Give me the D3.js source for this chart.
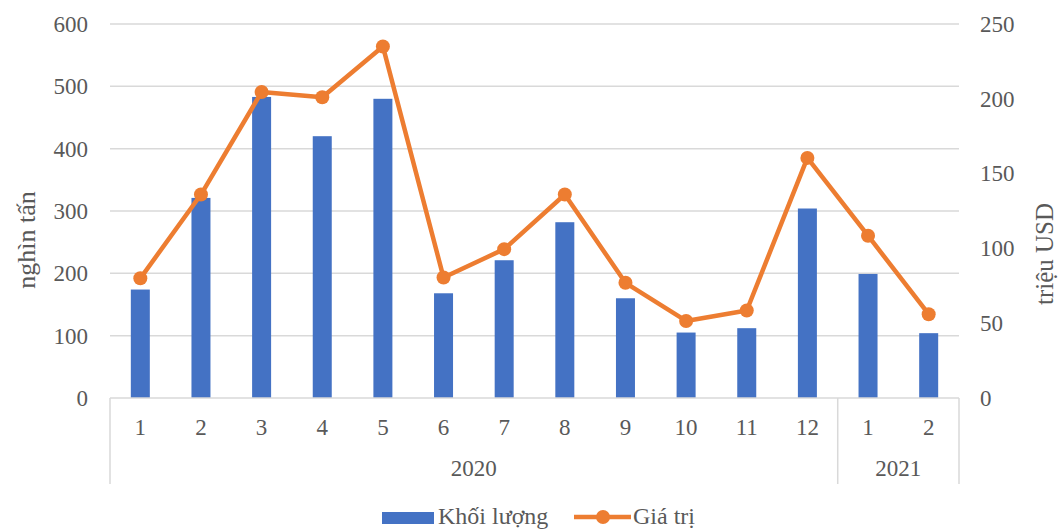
<!DOCTYPE html>
<html>
<head>
<meta charset="utf-8">
<script src="https://cdn.jsdelivr.net/npm/d3@7"></script>
<style>
  html, body { margin: 0; padding: 0; background: #fff; }
  svg { display: block; font-family: "Liberation Serif", "Times New Roman", serif; }
</style>
</head>
<body>
<svg id="chart" width="1059" height="530"></svg>
<script>
// Monthly data: volume (thousand tonnes) and value (million USD)
const months = ["1","2","3","4","5","6","7","8","9","10","11","12","1","2"];
const years = ["2020","2020","2020","2020","2020","2020","2020","2020","2020","2020","2020","2020","2021","2021"];
const volume = [174, 321, 483, 420, 480, 168, 221, 282, 160, 105, 112, 304, 199, 104];
const value = [80, 136, 204.5, 201, 235, 80.5, 99.5, 136, 77, 51.5, 58.5, 160.5, 108.5, 56];
const leftTicks = [0, 100, 200, 300, 400, 500, 600];
const rightTicks = [0, 50, 100, 150, 200, 250];
const yearGroups = ["2020", "2021"];

const svg = d3.select("#chart");
const m = { left: 110, right: 959, top: 24, bottom: 398 };
const textColor = "#595959";
const gridColor = "#d9d9d9";
const tickFont = 23;

const idx = d3.range(months.length);
const x = d3.scaleBand().domain(idx).range([m.left, m.right]).paddingInner(0).paddingOuter(0);
const yL = d3.scaleLinear().domain([0, 600]).range([m.bottom, m.top]);
const yR = d3.scaleLinear().domain([0, 250]).range([m.bottom, m.top]);

// Gridlines
svg.append("g").selectAll("line").data(leftTicks.filter(d => d > 0)).join("line")
  .attr("x1", m.left).attr("x2", m.right)
  .attr("y1", d => yL(d)).attr("y2", d => yL(d))
  .attr("stroke", gridColor).attr("stroke-width", 1.5);

// Left axis
const axL = svg.append("g").attr("transform", `translate(${m.left},0)`)
  .call(d3.axisLeft(yL).tickValues(leftTicks).tickSize(0).tickPadding(22));
axL.select(".domain").remove();
axL.selectAll("text").attr("font-size", tickFont).attr("fill", textColor)
  .attr("font-family", "Liberation Serif");

// Right axis
const axR = svg.append("g").attr("transform", `translate(${m.right},0)`)
  .call(d3.axisRight(yR).tickValues(rightTicks).tickSize(0).tickPadding(21));
axR.select(".domain").remove();
axR.selectAll("text").attr("font-size", tickFont).attr("fill", textColor)
  .attr("font-family", "Liberation Serif");

// Axis titles
svg.append("text").attr("transform", `translate(35,240) rotate(-90)`)
  .attr("text-anchor", "middle").attr("font-size", 26).attr("fill", textColor)
  .text("nghìn tấn");
svg.append("text").attr("transform", `translate(1053,254) rotate(-90)`)
  .attr("text-anchor", "middle").attr("font-size", 25).attr("fill", textColor)
  .text("triệu USD");

// Bars
const barW = 19;
svg.append("g").selectAll("rect").data(idx).join("rect")
  .attr("x", i => x(i) + x.bandwidth() / 2 - barW / 2)
  .attr("width", barW)
  .attr("y", i => yL(volume[i]))
  .attr("height", i => yL(0) - yL(volume[i]))
  .attr("fill", "#4472C4");

// Category axis: baseline, group separators, labels
svg.append("line").attr("x1", m.left).attr("x2", m.right)
  .attr("y1", m.bottom).attr("y2", m.bottom)
  .attr("stroke", gridColor).attr("stroke-width", 1.5);

const groupBounds = yearGroups.map(g => {
  const ii = idx.filter(i => years[i] === g);
  return { name: g, x0: x(ii[0]), x1: x(ii[ii.length - 1]) + x.bandwidth() };
});
const sepX = [m.left, ...groupBounds.map(b => b.x1)];
svg.append("g").selectAll("line").data(sepX).join("line")
  .attr("x1", d => d).attr("x2", d => d)
  .attr("y1", m.bottom).attr("y2", 484)
  .attr("stroke", gridColor).attr("stroke-width", 1.5);

svg.append("g").selectAll("text").data(idx).join("text")
  .attr("x", i => x(i) + x.bandwidth() / 2).attr("y", 435)
  .attr("text-anchor", "middle").attr("font-size", tickFont).attr("fill", textColor)
  .text(i => months[i]);

svg.append("g").selectAll("text").data(groupBounds).join("text")
  .attr("x", d => (d.x0 + d.x1) / 2).attr("y", 476)
  .attr("text-anchor", "middle").attr("font-size", tickFont).attr("fill", textColor)
  .text(d => d.name);

// Value line
const line = d3.line().x(i => x(i) + x.bandwidth() / 2).y(i => yR(value[i]));
svg.append("path").datum(idx).attr("d", line)
  .attr("fill", "none").attr("stroke", "#ED7D31").attr("stroke-width", 4.5)
  .attr("stroke-linejoin", "round");
svg.append("g").selectAll("circle").data(idx).join("circle")
  .attr("cx", i => x(i) + x.bandwidth() / 2).attr("cy", i => yR(value[i]))
  .attr("r", 7).attr("fill", "#ED7D31");

// Legend
const lg = svg.append("g");
lg.append("rect").attr("x", 382).attr("y", 512).attr("width", 52).attr("height", 12).attr("fill", "#4472C4");
lg.append("text").attr("x", 438).attr("y", 524).attr("font-size", 24).attr("fill", textColor).text("Khối lượng");
lg.append("line").attr("x1", 574).attr("x2", 631).attr("y1", 517).attr("y2", 517)
  .attr("stroke", "#ED7D31").attr("stroke-width", 4.5);
lg.append("circle").attr("cx", 603).attr("cy", 517).attr("r", 7).attr("fill", "#ED7D31");
lg.append("text").attr("x", 633).attr("y", 524).attr("font-size", 24).attr("fill", textColor).text("Giá trị");
</script>
</body>
</html>
